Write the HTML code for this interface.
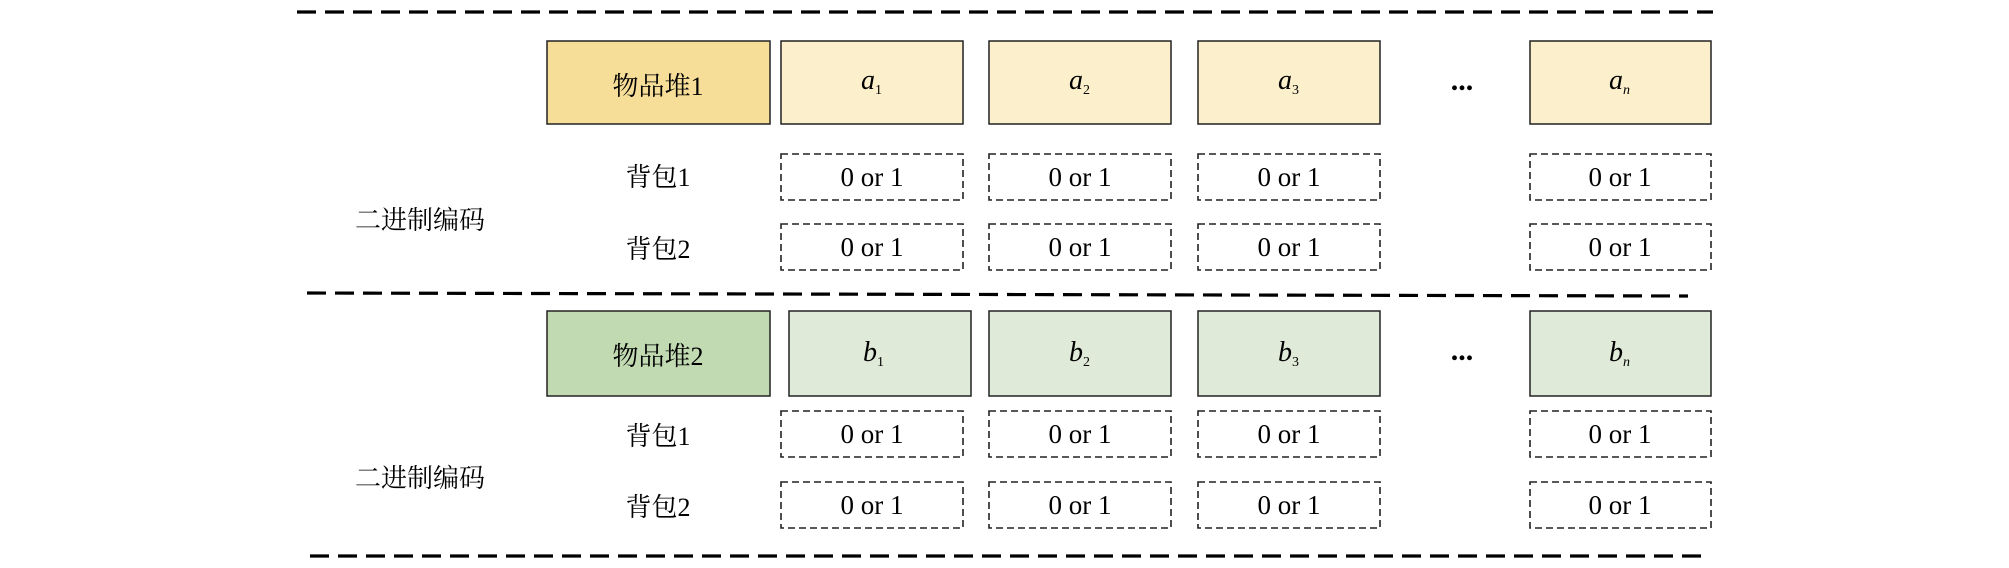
<!DOCTYPE html>
<html><head><meta charset="utf-8"><style>
html,body{margin:0;padding:0;background:#fff;}
svg{display:block;}
text{font-family:"Liberation Serif","Noto Serif CJK SC",serif;fill:#000;}
</style></head><body>
<svg width="2009" height="568" viewBox="0 0 2009 568" xmlns="http://www.w3.org/2000/svg">
<g stroke="#000" stroke-width="3.2" stroke-dasharray="19 9" fill="none">
<line x1="297" y1="12" x2="1713" y2="12"/>
<line x1="307" y1="293" x2="1688" y2="296"/>
<line x1="310" y1="556" x2="1706" y2="556"/>
</g>
<g stroke="#222" stroke-width="1.5">
<rect x="547" y="41" width="223" height="83" fill="#f6dd98"/>
<rect x="781" y="41" width="182" height="83" fill="#fcefcc"/>
<rect x="989" y="41" width="182" height="83" fill="#fcefcc"/>
<rect x="1198" y="41" width="182" height="83" fill="#fcefcc"/>
<rect x="1530" y="41" width="181" height="83" fill="#fcefcc"/>
<rect x="547" y="311" width="223" height="85" fill="#c1dab2"/>
<rect x="789" y="311" width="182" height="85" fill="#dfead8"/>
<rect x="989" y="311" width="182" height="85" fill="#dfead8"/>
<rect x="1198" y="311" width="182" height="85" fill="#dfead8"/>
<rect x="1530" y="311" width="181" height="85" fill="#dfead8"/>
</g>
<g stroke="#222" stroke-width="1.6" stroke-dasharray="7 4" fill="none">
<rect x="781" y="154" width="182" height="46"/><rect x="989" y="154" width="182" height="46"/><rect x="1198" y="154" width="182" height="46"/><rect x="1530" y="154" width="181" height="46"/>
<rect x="781" y="224" width="182" height="46"/><rect x="989" y="224" width="182" height="46"/><rect x="1198" y="224" width="182" height="46"/><rect x="1530" y="224" width="181" height="46"/>
<rect x="781" y="411" width="182" height="46"/><rect x="989" y="411" width="182" height="46"/><rect x="1198" y="411" width="182" height="46"/><rect x="1530" y="411" width="181" height="46"/>
<rect x="781" y="482" width="182" height="46"/><rect x="989" y="482" width="182" height="46"/><rect x="1198" y="482" width="182" height="46"/><rect x="1530" y="482" width="181" height="46"/>
</g>
<g font-size="26" text-anchor="middle">
<text x="658" y="95">物品堆1</text>
<text x="658" y="365">物品堆2</text>
<text x="658" y="186">背包1</text>
<text x="658" y="258">背包2</text>
<text x="658" y="445">背包1</text>
<text x="658" y="516">背包2</text>
<text x="420" y="229">二进制编码</text>
<text x="420" y="487">二进制编码</text>
</g>
<g font-size="27" text-anchor="middle">
<text x="872" y="186">0 or 1</text><text x="1080" y="186">0 or 1</text><text x="1289" y="186">0 or 1</text><text x="1620" y="186">0 or 1</text>
<text x="872" y="256">0 or 1</text><text x="1080" y="256">0 or 1</text><text x="1289" y="256">0 or 1</text><text x="1620" y="256">0 or 1</text>
<text x="872" y="443">0 or 1</text><text x="1080" y="443">0 or 1</text><text x="1289" y="443">0 or 1</text><text x="1620" y="443">0 or 1</text>
<text x="872" y="514">0 or 1</text><text x="1080" y="514">0 or 1</text><text x="1289" y="514">0 or 1</text><text x="1620" y="514">0 or 1</text>
</g>
<g font-size="28" font-style="italic">
<text x="861" y="89">a<tspan font-size="14" font-style="normal" dy="5">1</tspan></text>
<text x="1069" y="89">a<tspan font-size="14" font-style="normal" dy="5">2</tspan></text>
<text x="1278" y="89">a<tspan font-size="14" font-style="normal" dy="5">3</tspan></text>
<text x="1609" y="89">a<tspan font-size="14" dy="5">n</tspan></text>
<text x="863" y="361">b<tspan font-size="14" font-style="normal" dy="5">1</tspan></text>
<text x="1069" y="361">b<tspan font-size="14" font-style="normal" dy="5">2</tspan></text>
<text x="1278" y="361">b<tspan font-size="14" font-style="normal" dy="5">3</tspan></text>
<text x="1609" y="361">b<tspan font-size="14" dy="5">n</tspan></text>
</g>
<g font-size="30" font-weight="bold" text-anchor="middle">
<text x="1462" y="90">...</text>
<text x="1462" y="360">...</text>
</g>
</svg>
</body></html>
